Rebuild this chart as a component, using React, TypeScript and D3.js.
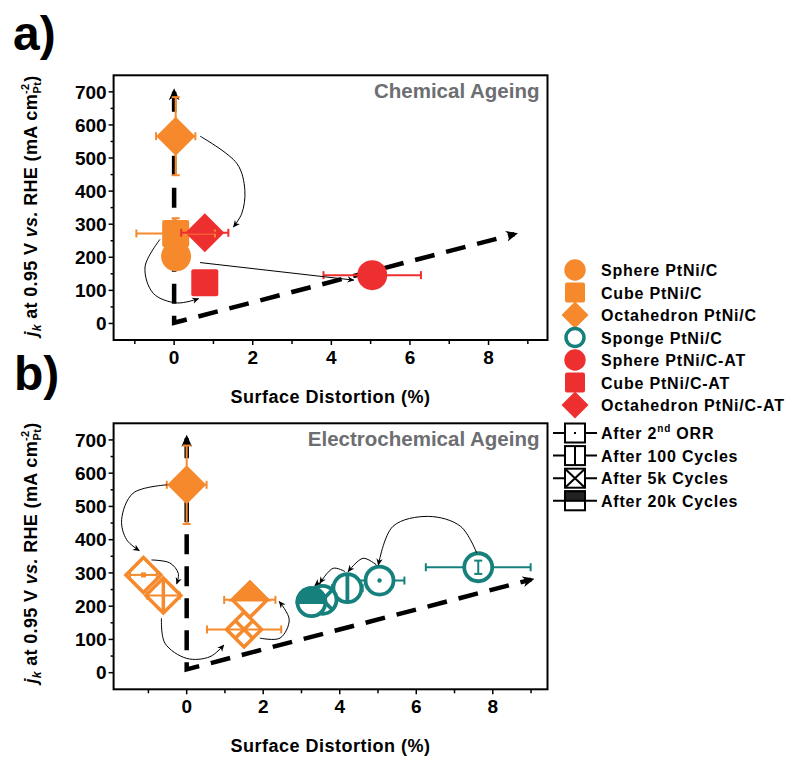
import React from 'react';
import * as d3 from 'd3';

const ORANGE = '#F5892C';
const RED = '#EE2F30';
const TEAL = '#16807D';
const GRAY = '#6D6E71';
const FONT = "'Liberation Sans', Arial, Helvetica, sans-serif";

// Axis ticks
const xTicks = [0, 2, 4, 6, 8];
const xMinorTicks = [-1, 1, 3, 5, 7, 9];
const yTicks = [0, 100, 200, 300, 400, 500, 600, 700];
const yMinorTicks = [50, 150, 250, 350, 450, 550, 650];

// Panel a) chemical ageing
const chemNames = ['Cube PtNi/C', 'Sphere PtNi/C', 'Octahedron PtNi/C', 'Sphere PtNi/C-AT', 'Cube PtNi/C-AT', 'Octahedron PtNi/C-AT'];
const chemShapes = ['square', 'circle', 'diamond', 'circle', 'square', 'diamond'];
const chemColors = [ORANGE, ORANGE, ORANGE, RED, RED, RED];
const chemX = [0.04, 0.05, 0.04, 5.04, 0.78, 0.78];
const chemY = [272, 203, 566, 146, 123, 274];
const chemXErr = [1.0, 0, 0.5, 1.24, 0, 0.6];
const chemYErr = [46, 0, 118, 0, 0, 0];

// Panel b) electrochemical ageing, stages: initial, 2nd ORR, 100, 5k, 20k cycles
const stageCodes = ['initial', 'dot', 'vline', 'cross', 'half'];
const octaX = [0.0, -1.13, -0.61, 1.5, 1.65];
const octaY = [565, 294, 232, 130, 219];
const octaXErr = [0.52, 0.35, 0.43, 0.97, 0.67];
const octaYErr = [118, 0, 0, 0, 0];
const spongeX = [7.62, 5.04, 4.2, 3.55, 3.26];
const spongeY = [317, 277, 254, 219, 212];
const spongeXErr = [1.37, 0.65, 0.4, 0, 0];
const spongeYErr = [20, 0, 0, 0, 0];

// Annotation arrows (data coordinates)
const chemArrows: number[][][] = [
  [[0.66, 566], [1.6, 483], [1.8, 402], [1.72, 332], [1.51, 292]],
  [[0.66, 184], [4.57, 131]],
  [[-0.36, 254], [-0.74, 171], [-0.53, 91], [0.07, 62], [0.62, 75]],
];
const echemArrows: number[][][] = [
  [[-0.51, 565], [-1.4, 540], [-1.7, 460], [-1.57, 400], [-1.24, 367]],
  [[-0.92, 339], [-0.44, 330], [-0.22, 299], [-0.26, 267]],
  [[-0.66, 164], [-0.57, 89], [0, 43], [0.61, 48], [0.97, 83]],
  [[1.91, 104], [2.44, 104], [2.68, 159], [2.42, 214]],
  [[7.58, 360], [7.16, 440], [6.32, 470], [5.39, 440], [5.01, 324]],
  [[4.96, 324], [4.61, 344], [4.22, 304]],
  [[4.14, 304], [3.83, 314], [3.48, 269]],
  [[3.44, 271], [3.35, 262]],
];
// Guide dashed arrows
const chemGuide = [[0, 700], [0, 2], [8.66, 270]];
const echemGuide = [[0, 705], [0, 10], [9.0, 280]];

// Legend
const legendNames = ['Sphere PtNi/C', 'Cube PtNi/C', 'Octahedron PtNi/C', 'Sponge PtNi/C', 'Sphere PtNi/C-AT', 'Cube PtNi/C-AT', 'Octahedron PtNi/C-AT'];
const legendShapes = ['circle', 'square', 'diamond', 'circle', 'circle', 'square', 'diamond'];
const legendColors = [ORANGE, ORANGE, ORANGE, TEAL, RED, RED, RED];
const legendOpen = [false, false, false, true, false, false, false];
const stageLegend = ['dot', 'vline', 'cross', 'half'];

function diamondPath(cx: number, cy: number, h: number) {
  return `M${cx},${cy - h}L${cx + h},${cy}L${cx},${cy + h}L${cx - h},${cy}Z`;
}

function Marker({ shape, cx, cy, size, color, deco, sw }: any) {
  const els: any[] = [];
  const filled = deco === 'initial' && shape !== 'opencircle';
  if (shape === 'circle' || shape === 'opencircle') {
    const r = size;
    els.push(<circle key="b" cx={cx} cy={cy} r={r} fill={filled ? color : '#fff'} stroke={filled ? 'none' : color} strokeWidth={sw} />);
    if (deco === 'dot') els.push(<circle key="d" cx={cx} cy={cy} r={2.2} fill={color} />);
    if (deco === 'vline') els.push(<line key="v" x1={cx} x2={cx} y1={cy - r} y2={cy + r} stroke={color} strokeWidth={sw} />);
    if (deco === 'cross') {
      const k = r * 0.707;
      els.push(<path key="x" d={`M${cx - k},${cy - k}L${cx + k},${cy + k}M${cx + k},${cy - k}L${cx - k},${cy + k}`} stroke={color} strokeWidth={sw} />);
    }
    if (deco === 'half') els.push(<path key="h" d={`M${cx - r},${cy}A${r},${r} 0 0 1 ${cx + r},${cy}Z`} fill={color} stroke={color} strokeWidth={sw} />);
  } else if (shape === 'square') {
    els.push(<rect key="b" x={cx - size} y={cy - size} width={size * 2} height={size * 2} rx={2} fill={color} />);
  } else if (shape === 'diamond') {
    const h = size;
    els.push(<path key="b" d={diamondPath(cx, cy, h)} fill={filled ? color : '#fff'} stroke={filled ? 'none' : color} strokeWidth={filled ? 0 : sw} strokeLinejoin="miter" />);
    if (deco === 'dot') els.push(<rect key="d" x={cx - 2.5} y={cy - 2.5} width={5} height={5} fill={color} />);
    if (deco === 'vline') els.push(<line key="v" x1={cx} x2={cx} y1={cy - h} y2={cy + h} stroke={color} strokeWidth={sw} />);
    if (deco === 'cross') {
      const k = h / 2;
      els.push(<path key="x" d={`M${cx - k},${cy - k}L${cx + k},${cy + k}M${cx + k},${cy - k}L${cx - k},${cy + k}`} stroke={color} strokeWidth={sw} />);
    }
    if (deco === 'half') els.push(<path key="h" d={`M${cx},${cy - h}L${cx + h},${cy}L${cx - h},${cy}Z`} fill={color} stroke={color} strokeWidth={sw} strokeLinejoin="miter" />);
  }
  return <g>{els}</g>;
}

function XErr({ x, y, v, val, e, color }: any) {
  if (!e) return null;
  const x1 = x(v - e), x2 = x(v + e), yy = y(val);
  return (
    <g stroke={color} strokeWidth={2}>
      <line x1={x1} x2={x2} y1={yy} y2={yy} />
      <line x1={x1} x2={x1} y1={yy - 4} y2={yy + 4} />
      <line x1={x2} x2={x2} y1={yy - 4} y2={yy + 4} />
    </g>
  );
}
function YErr({ x, y, v, val, e, color }: any) {
  if (!e) return null;
  const y1 = y(val - e), y2 = y(val + e), xx = x(v);
  return (
    <g stroke={color} strokeWidth={2}>
      <line x1={xx} x2={xx} y1={y1} y2={y2} />
      <line x1={xx - 4} x2={xx + 4} y1={y1} y2={y1} />
      <line x1={xx - 4} x2={xx + 4} y1={y2} y2={y2} />
    </g>
  );
}

function Axes({ x, y, box, title, titleY }: any) {
  const [l, t, r, b] = box;
  return (
    <g fontFamily={FONT} fontWeight="bold">
      {xTicks.map((v) => (
        <g key={'xt' + v}>
          <line x1={x(v)} x2={x(v)} y1={b} y2={b + 5} stroke="#000" strokeWidth={1.5} />
          <text x={x(v)} y={b + 23.5} textAnchor="middle" fontSize={19}>{v}</text>
        </g>
      ))}
      {xMinorTicks.map((v) => (
        <line key={'xm' + v} x1={x(v)} x2={x(v)} y1={b} y2={b + 4} stroke="#000" strokeWidth={1.5} />
      ))}
      {yTicks.map((v) => (
        <g key={'yt' + v}>
          <line x1={l - 5} x2={l} y1={y(v)} y2={y(v)} stroke="#000" strokeWidth={1.5} />
          <text x={l - 7} y={y(v) + 6.8} textAnchor="end" fontSize={19}>{v}</text>
        </g>
      ))}
      {yMinorTicks.map((v) => (
        <line key={'ym' + v} x1={l - 3} x2={l} y1={y(v)} y2={y(v)} stroke="#000" strokeWidth={1.5} />
      ))}
      <rect x={l} y={t} width={r - l} height={b - t} fill="none" stroke="#000" strokeWidth={2} />
      <text x={r - 8} y={t + 23} textAnchor="end" fontSize={20.5} fill={GRAY}>{title}</text>
      <text x={(l + r) / 2} y={titleY} textAnchor="middle" fontSize={18} letterSpacing={0.5}>Surface Distortion (%)</text>
    </g>
  );
}

function YLabel({ cx, cy }: any) {
  return (
    <text transform={`translate(${cx},${cy}) rotate(-90)`} textAnchor="middle" fontFamily={FONT} fontWeight="bold" fontSize={18} letterSpacing={0.35}>
      <tspan fontStyle="italic">j</tspan>
      <tspan fontStyle="italic" fontSize={12} dy={4}>k</tspan>
      <tspan dy={-4}> at 0.95 V </tspan>
      <tspan fontStyle="italic">vs.</tspan>
      <tspan> RHE (mA cm</tspan>
      <tspan fontSize={11} dy={-8}>-2</tspan>
      <tspan fontSize={11} dy={12} dx={-10}>Pt</tspan>
      <tspan dy={-4}>)</tspan>
    </text>
  );
}

export default function App() {
  // panel a
  const boxA = [113.6, 75.3, 547.5, 340];
  const xA = d3.scaleLinear().domain([-1.54, 9.5]).range([boxA[0], boxA[2]]);
  const yA = d3.scaleLinear().domain([-50, 750]).range([boxA[3], boxA[1]]);
  // panel b
  const boxB = [113.6, 423.3, 547.5, 689.3];
  const xB = d3.scaleLinear().domain([-1.91, 9.43]).range([boxB[0], boxB[2]]);
  const yB = d3.scaleLinear().domain([-50, 750]).range([boxB[3], boxB[1]]);

  const lineA = d3.line<number[]>().x((d) => xA(d[0])).y((d) => yA(d[1])).curve(d3.curveCatmullRom);
  const lineB = d3.line<number[]>().x((d) => xB(d[0])).y((d) => yB(d[1])).curve(d3.curveCatmullRom);
  const guideA = d3.line<number[]>().x((d) => xA(d[0])).y((d) => yA(d[1]));
  const guideB = d3.line<number[]>().x((d) => xB(d[0])).y((d) => yB(d[1]));

  const sizeOf = (s: string) => (s === 'circle' ? 15 : s === 'square' ? 13.5 : 19.5);

  const legY0 = 270, legStep = 22.5;
  const stY0 = 433, stStep = 22.6;

  return (
    <svg width={800} height={767} style={{ position: 'absolute', left: 0, top: 0, background: '#fff' }}>
      <defs>
        <marker id="ah" viewBox="0 0 10 10" refX="9" refY="5" markerWidth="7" markerHeight="7" markerUnits="userSpaceOnUse" orient="auto">
          <path d="M0,0.5L10,5L0,9.5L3,5Z" fill="#000" />
        </marker>
        <marker id="bah" viewBox="0 0 10 10" refX="7" refY="5" markerWidth="12" markerHeight="12" markerUnits="userSpaceOnUse" orient="auto-start-reverse">
          <path d="M0,0.5L10,5L0,9.5L3,5Z" fill="#000" />
        </marker>
      </defs>

      <text x={13} y={50} fontFamily={FONT} fontWeight="bold" fontSize={48}>a)</text>
      <text x={14} y={390} fontFamily={FONT} fontWeight="bold" fontSize={48}>b)</text>

      {/* Panel a */}
      <Axes x={xA} y={yA} box={boxA} title="Chemical Ageing" titleY={403} />
      <YLabel cx={37} cy={206} />
      <path d={guideA(chemGuide) || ''} fill="none" stroke="#000" strokeWidth={4.5} strokeDasharray="20 12" markerStart="url(#bah)" markerEnd="url(#bah)" />
      {chemX.map((v, i) => (
        <Marker key={'cm' + i} shape={chemShapes[i]} cx={xA(v)} cy={yA(chemY[i])} size={sizeOf(chemShapes[i])} color={chemColors[i]} deco="initial" sw={0} />
      ))}
      {chemX.map((v, i) => (
        <g key={'ce' + i}>
          <XErr x={xA} y={yA} v={v} val={chemY[i]} e={chemXErr[i]} color={chemColors[i]} />
          <YErr x={xA} y={yA} v={v} val={chemY[i]} e={chemYErr[i]} color={chemColors[i]} />
        </g>
      ))}
      {chemArrows.map((pts, i) => (
        <path key={'ca' + i} d={lineA(pts) || ''} fill="none" stroke="#000" strokeWidth={1} markerEnd="url(#ah)" />
      ))}

      {/* Panel b */}
      <Axes x={xB} y={yB} box={boxB} title="Electrochemical Ageing" titleY={752} />
      <YLabel cx={37} cy={553} />
      <path d={guideB(echemGuide) || ''} fill="none" stroke="#000" strokeWidth={4.5} strokeDasharray="20 12" markerStart="url(#bah)" markerEnd="url(#bah)" />
      {spongeX.map((v, i) => (
        <g key={'sp' + i}>
          <XErr x={xB} y={yB} v={v} val={spongeY[i]} e={spongeXErr[i]} color={TEAL} />
          <Marker shape="opencircle" cx={xB(v)} cy={yB(spongeY[i])} size={14} color={TEAL} deco={stageCodes[i]} sw={3.8} />
          <YErr x={xB} y={yB} v={v} val={spongeY[i]} e={spongeYErr[i]} color={TEAL} />
        </g>
      ))}
      {octaX.map((v, i) => (
        <g key={'oc' + i}>
          <Marker shape="diamond" cx={xB(v)} cy={yB(octaY[i])} size={i === 0 ? 19.5 : 17.5} color={ORANGE} deco={stageCodes[i]} sw={3.5} />
          <XErr x={xB} y={yB} v={v} val={octaY[i]} e={octaXErr[i]} color={ORANGE} />
          <YErr x={xB} y={yB} v={v} val={octaY[i]} e={octaYErr[i]} color={ORANGE} />
        </g>
      ))}
      {echemArrows.map((pts, i) => (
        <path key={'ea' + i} d={lineB(pts) || ''} fill="none" stroke="#000" strokeWidth={1} markerEnd="url(#ah)" />
      ))}

      {/* Legend */}
      <g fontFamily={FONT} fontWeight="bold" fontSize={16} letterSpacing={0.8}>
        {legendNames.map((n, i) => {
          const cy = legY0 + i * legStep;
          const s = legendShapes[i];
          const size = s === 'circle' ? (legendOpen[i] ? 9 : 10.7) : s === 'square' ? 10 : 13.5;
          return (
            <g key={'lg' + i}>
              <Marker shape={legendOpen[i] ? 'opencircle' : s} cx={575} cy={cy} size={size} color={legendColors[i]} deco={legendOpen[i] ? 'none' : 'initial'} sw={3.5} />
              <text x={601} y={cy + 6}>{n}</text>
            </g>
          );
        })}
        {stageLegend.map((d, i) => {
          const cy = stY0 + i * stStep;
          const l = 565, r = 585, t = cy - 9.5, b = cy + 9.5;
          return (
            <g key={'st' + i}>
              <line x1={553} x2={597} y1={cy} y2={cy} stroke="#000" strokeWidth={2} />
              <rect x={l} y={t} width={r - l} height={b - t} fill="#fff" stroke="#000" strokeWidth={2} />
              {d === 'dot' && <rect x={574} y={cy - 1} width={2} height={2} fill="#000" />}
              {d === 'vline' && <line x1={575} x2={575} y1={t} y2={b} stroke="#000" strokeWidth={2} />}
              {d === 'cross' && <path d={`M${l},${t}L${r},${b}M${r},${t}L${l},${b}`} stroke="#000" strokeWidth={2} />}
              {d === 'half' && <rect x={l} y={t} width={r - l} height={(b - t) / 2} fill="#222" stroke="#000" strokeWidth={2} />}
              <text x={601} y={cy + 6}>
                {i === 0 ? (
                  <>
                    After 2<tspan fontSize={10} dy={-7}>nd</tspan><tspan dy={7}> ORR</tspan>
                  </>
                ) : i === 1 ? 'After 100 Cycles' : i === 2 ? 'After 5k Cycles' : 'After 20k Cycles'}
              </text>
            </g>
          );
        })}
      </g>
    </svg>
  );
}
